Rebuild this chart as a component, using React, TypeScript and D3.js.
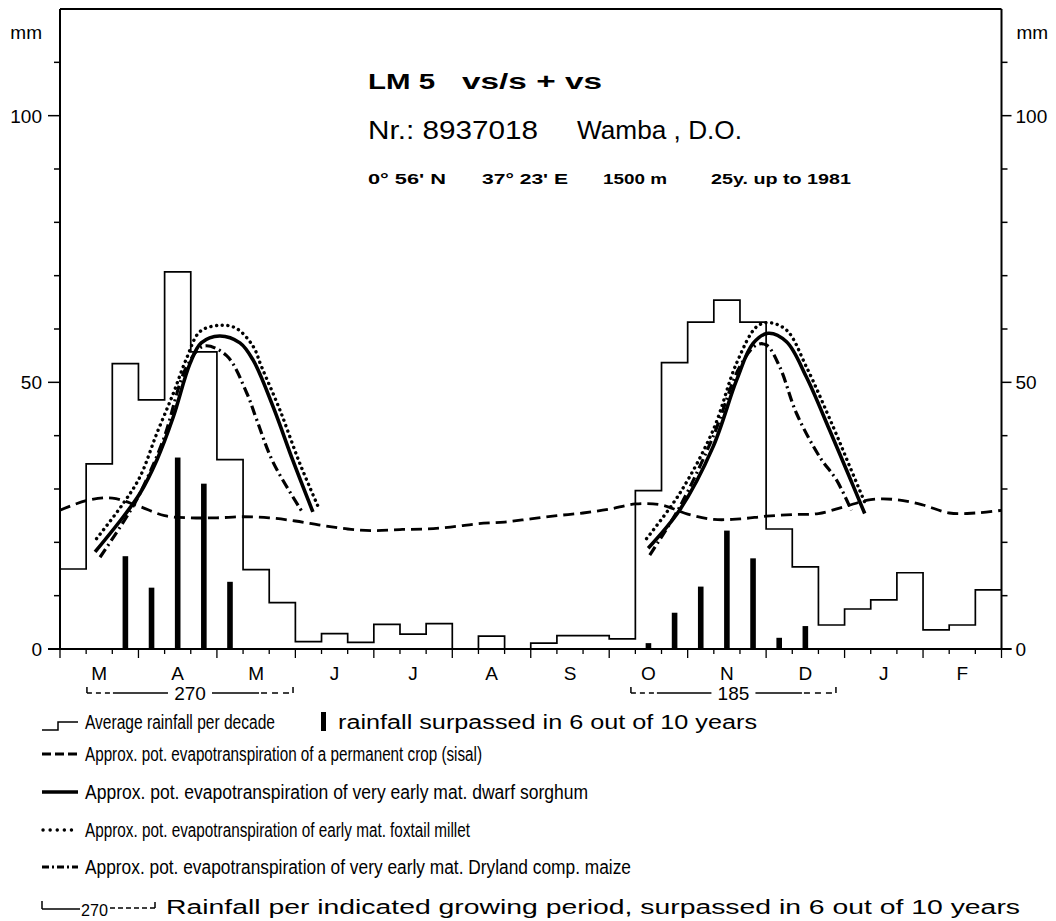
import React from "react";
import * as d3 from "d3";

// ---------- DATA ----------
const months = ["M", "A", "M", "J", "J", "A", "S", "O", "N", "D", "J", "F"];
const yTicks = [0, 50, 100];
const yMinorTicks = [10, 20, 30, 40, 60, 70, 80, 90, 110];

// average rainfall per decade (mm), March 1st decade .. February 3rd decade
const rainfall = [
  15, 34.7, 53.5, 46.7, 70.7, 55.7, 35.5, 14.9, 8.7,
  1.4, 2.9, 1.25, 4.6, 2.8, 4.75, 0, 2.4, 0,
  1.1, 2.5, 2.5, 1.9, 29.7, 53.7, 61.3, 65.4, 61.3,
  22.5, 15.4, 4.5, 7.5, 9.2, 14.3, 3.6, 4.5, 11.1,
];

// rainfall surpassed in 6 out of 10 years (mm) per decade
const dependable: (number | null)[] = [
  null, null, 17.4, 11.5, 35.9, 31.0, 12.6, null, null,
  null, null, null, null, null, null, null, null, null,
  null, null, null, null, 1.1, 6.8, 11.7, 22.2, 17.0,
  2.1, 4.3, null, null, null, null, null, null, null,
];

// ET of permanent crop (sisal) at decade boundaries 0..36
const sisal = [
  26.0, 27.8, 28.3, 26.8, 25.0, 24.6, 24.6, 24.8, 24.6, 24.0, 23.2, 22.5,
  22.2, 22.4, 22.5, 22.9, 23.5, 23.8, 24.4, 25.0, 25.5, 26.2, 27.2, 27.0,
  25.3, 24.3, 24.4, 24.9, 25.2, 25.4, 26.7, 28.0, 28.0, 27.0, 25.5, 25.5, 26.0,
];

// crop ET curves: [decade position, mm]
const sorghum1: [number, number][] = [
  [1.34, 18.2], [2.42, 24.8], [3.06, 29.2], [3.7, 35.4], [4.33, 43.5], [4.97, 53.5],
  [5.4, 57.4], [6.1, 58.7], [6.88, 57.4], [7.38, 54.2], [8.15, 45.4], [8.9, 35.4], [9.67, 25.7],
];
const millet1: [number, number][] = [
  [1.4, 20.7], [2.42, 27.3], [3.06, 32.3], [3.7, 40.4], [4.33, 47.9], [4.84, 54.5],
  [5.35, 59.5], [6.12, 60.7], [6.75, 60.1], [7.39, 56.7], [7.7, 53.0], [8.41, 44.8],
  [9.17, 34.8], [9.87, 26.7],
];
const maize1: [number, number][] = [
  [1.53, 17.2], [2.55, 24.8], [3.06, 29.2], [3.95, 39.2], [4.84, 52.9], [5.5, 56.8],
  [6.37, 55.0], [7.14, 48.0], [7.52, 43.0], [8.15, 35.0], [9.3, 25.4],
];
const sorghum2: [number, number][] = [
  [22.49, 18.9], [23.7, 26.1], [24.97, 37.9], [25.87, 50.4], [26.5, 57.3], [27.08, 59.2],
  [27.78, 57.6], [28.54, 51.0], [29.43, 41.0], [30.07, 33.6], [30.77, 25.4],
];
const millet2: [number, number][] = [
  [22.43, 20.7], [23.7, 29.2], [24.97, 41.0], [25.87, 53.6], [26.63, 60.4], [27.08, 61.2],
  [27.78, 59.8], [28.54, 52.9], [29.56, 41.7], [30.2, 34.2], [30.84, 26.7],
];
const maize2: [number, number][] = [
  [22.55, 17.6], [23.7, 26.7], [24.97, 39.8], [25.99, 52.9], [26.63, 57.0], [27.01, 57.0],
  [27.52, 52.9], [28.16, 44.2], [29.05, 36.0], [29.69, 31.7], [30.26, 26.0],
];

// growing periods (decade positions) and rainfall surpassed 6/10 years
const periodStart = [1.03, 21.83];
const periodEnd = [8.91, 29.67];
const periodTotal = [270, 185];

const legendTexts = [
  "Average rainfall per decade",
  "rainfall surpassed in 6 out of 10 years",
  "Approx. pot. evapotranspiration of a permanent crop (sisal)",
  "Approx. pot. evapotranspiration of very early mat. dwarf sorghum",
  "Approx. pot. evapotranspiration of early mat. foxtail millet",
  "Approx. pot. evapotranspiration of very early mat. Dryland comp. maize",
  "Rainfall per indicated growing period, surpassed in 6 out of 10 years",
];

const titleLine1 = ["LM 5", "vs/s + vs"];
const titleLine2 = ["Nr.: 8937018", "Wamba , D.O."];
const titleLine3 = ["0° 56' N", "37° 23' E", "1500 m", "25y. up to 1981"];

// ---------- LAYOUT ----------
const W = 1056;
const H = 921;
const X0 = 60;
const X1 = 1001.5;
const Y0 = 649;
const YTOP = 9;
const FONT = "'Liberation Sans', Arial, Helvetica, sans-serif";

export default function App() {
  const x = d3.scaleLinear().domain([0, 36]).range([X0, X1]);
  const y = d3.scaleLinear().domain([0, 120]).range([Y0, YTOP]);

  const histPts: [number, number][] = rainfall.map((v, i) => [i, v]);
  histPts.push([36, rainfall[rainfall.length - 1]]);
  const histLine = d3
    .line<[number, number]>()
    .x((d) => x(d[0]))
    .y((d) => y(d[1]))
    .curve(d3.curveStepAfter);

  const smooth = d3
    .line<[number, number]>()
    .x((d) => x(d[0]))
    .y((d) => y(d[1]))
    .curve(d3.curveCatmullRom.alpha(0.5));

  const sisalPts: [number, number][] = sisal.map((v, i) => [i, v]);
  const decadeTicks = d3.range(0, 37);

  const lineStyles = {
    sisal: { strokeWidth: 2.8, strokeDasharray: "11 6" },
    sorghum: { strokeWidth: 3.6 },
    millet: { strokeWidth: 3.4, strokeDasharray: "0.1 5.6", strokeLinecap: "round" as const },
    maize: { strokeWidth: 3.2, strokeDasharray: "10 4 2 4" },
  };

  const legendY = [722, 754, 792, 830, 867, 907];
  // [x start, width] for each legend text
  const legendBox: [number, number][] = [
    [85, 190], [338, 419], [85, 397], [85, 503], [85, 385], [85, 546], [166, 854],
  ];
  const legendRow = [0, 0, 1, 2, 3, 4, 5];
  const LFS = 20;

  const t1: [number, number][] = [[368, 67], [462, 140]];
  const t2: [number, number][] = [[368, 170], [577, 165]];
  const t3: [number, number][] = [[368, 78], [482, 86], [603, 64], [711, 140]];

  return (
    <svg
      width={W}
      height={H}
      style={{ position: "absolute", left: 0, top: 0, background: "#fff" }}
      fontFamily={FONT}
    >
      <rect x={0} y={0} width={W} height={H} fill="#fff" />

      {/* frame */}
      <g stroke="#000" strokeWidth={2} fill="none">
        <line x1={X0} y1={YTOP} x2={X1} y2={YTOP} />
        <line x1={X0} y1={YTOP} x2={X0} y2={Y0} />
        <line x1={X1} y1={YTOP} x2={X1} y2={Y0} />
        <line x1={X0 - 12} y1={Y0} x2={X1 + 10} y2={Y0} />
      </g>

      {/* y ticks */}
      <g stroke="#000" strokeWidth={1.5}>
        {yTicks.map((t) => (
          <g key={"yt" + t}>
            <line x1={X0 - 12} x2={X0} y1={y(t)} y2={y(t)} />
            <line x1={X1} x2={X1 + 10} y1={y(t)} y2={y(t)} />
          </g>
        ))}
        {yMinorTicks.map((t) => (
          <g key={"ym" + t}>
            <line x1={X0 - 6} x2={X0} y1={y(t)} y2={y(t)} />
            <line x1={X1} x2={X1 + 6} y1={y(t)} y2={y(t)} />
          </g>
        ))}
      </g>
      <g fontSize={19} fill="#000">
        {yTicks.map((t) => (
          <g key={"yl" + t}>
            <text x={X0 - 18} y={y(t) + 7} textAnchor="end">{t}</text>
            <text x={X1 + 14} y={y(t) + 7}>{t}</text>
          </g>
        ))}
        <text x={X0 - 18} y={39} textAnchor="end">mm</text>
        <text x={X1 + 15} y={39}>mm</text>
      </g>

      {/* x ticks */}
      <g stroke="#000" strokeWidth={1.3}>
        {decadeTicks.map((i) => (
          <line key={"xt" + i} x1={x(i)} x2={x(i)} y1={Y0} y2={Y0 + (i % 3 === 0 ? 9 : 5)} />
        ))}
      </g>
      <g fontSize={19} fill="#000" textAnchor="middle">
        {months.map((m, i) => (
          <text key={"m" + i} x={x(i * 3 + 1.5)} y={680}>{m}</text>
        ))}
      </g>

      {/* histogram */}
      <path d={histLine(histPts) || ""} fill="none" stroke="#000" strokeWidth={1.7} />

      {/* dependable rainfall bars */}
      {dependable.map((v, i) =>
        v == null ? null : (
          <rect key={"b" + i} x={x(i + 0.5) - 2.8} width={5.6} y={y(v)} height={y(0) - y(v)} fill="#000" />
        )
      )}

      {/* sisal */}
      <path d={smooth(sisalPts) || ""} fill="none" stroke="#000" {...lineStyles.sisal} />

      {/* crop curves */}
      {[sorghum1, sorghum2].map((c, i) => (
        <path key={"s" + i} d={smooth(c) || ""} fill="none" stroke="#000" {...lineStyles.sorghum} />
      ))}
      {[millet1, millet2].map((c, i) => (
        <path key={"mi" + i} d={smooth(c) || ""} fill="none" stroke="#000" {...lineStyles.millet} />
      ))}
      {[maize1, maize2].map((c, i) => (
        <path key={"ma" + i} d={smooth(c) || ""} fill="none" stroke="#000" {...lineStyles.maize} />
      ))}

      {/* growing period brackets */}
      {periodTotal.map((tot, i) => {
        const xs = x(periodStart[i]);
        const xe = x(periodEnd[i]);
        const xc = (xs + xe) / 2;
        const by = 693;
        return (
          <g key={"gp" + i} stroke="#000" fill="none">
            <line x1={xs} x2={xs} y1={by} y2={by - 6} strokeWidth={1.5} />
            <line x1={xe} x2={xe} y1={by} y2={by - 6} strokeWidth={1.5} />
            <line x1={xs} x2={xs + 24} y1={by} y2={by} strokeWidth={1.5} strokeDasharray="5 4" />
            <line x1={xs + 26} x2={xc - 22} y1={by} y2={by} strokeWidth={1.5} />
            <line x1={xc + 22} x2={xe - 34} y1={by} y2={by} strokeWidth={1.5} />
            <line x1={xe - 32} x2={xe} y1={by} y2={by} strokeWidth={1.5} strokeDasharray="6 5" />
            <text x={xc} y={by + 7} textAnchor="middle" fontSize={19} fill="#000" stroke="none">
              {tot}
            </text>
          </g>
        );
      })}

      {/* titles */}
      <g fill="#000">
        {titleLine1.map((s, i) => (
          <text key={"t1" + i} x={t1[i][0]} y={89} fontSize={22} fontWeight="bold" textLength={t1[i][1]} lengthAdjust="spacingAndGlyphs">{s}</text>
        ))}
        {titleLine2.map((s, i) => (
          <text key={"t2" + i} x={t2[i][0]} y={138.5} fontSize={25} textLength={t2[i][1]} lengthAdjust="spacingAndGlyphs">{s}</text>
        ))}
        {titleLine3.map((s, i) => (
          <text key={"t3" + i} x={t3[i][0]} y={184} fontSize={15.5} fontWeight="bold" textLength={t3[i][1]} lengthAdjust="spacingAndGlyphs">{s}</text>
        ))}
      </g>

      {/* legend symbols */}
      <g stroke="#000" fill="none">
        <path d={`M42,${legendY[0] + 8} H58 V${legendY[0]} H78`} strokeWidth={1.5} />
        <rect x={321} y={legendY[0] - 10} width={5} height={19} fill="#000" stroke="none" />
        <line x1={42} x2={78} y1={legendY[1]} y2={legendY[1]} strokeWidth={2.8} strokeDasharray="9 4" />
        <line x1={42} x2={78} y1={legendY[2]} y2={legendY[2]} strokeWidth={3.6} />
        <line x1={43} x2={78} y1={legendY[3]} y2={legendY[3]} strokeWidth={3.4} strokeDasharray="0.1 7" strokeLinecap="round" />
        <line x1={42} x2={78} y1={legendY[4]} y2={legendY[4]} strokeWidth={3} strokeDasharray="7 3 2 3" />
        <line x1={42} x2={42} y1={legendY[5] + 2} y2={legendY[5] - 6} strokeWidth={1.5} />
        <line x1={42} x2={80} y1={legendY[5] + 2} y2={legendY[5] + 2} strokeWidth={1.5} />
        <line x1={110} x2={155} y1={legendY[5] + 1} y2={legendY[5] + 1} strokeWidth={1.5} strokeDasharray="5 3" />
        <line x1={155} x2={155} y1={legendY[5] + 1} y2={legendY[5] - 5} strokeWidth={1.5} />
      </g>

      {/* legend texts */}
      <g fill="#000" fontSize={LFS}>
        <text x={81} y={legendY[5] + 9} fontSize={17} textLength={27} lengthAdjust="spacingAndGlyphs">270</text>
        {legendTexts.map((s, k) => (
          <text
            key={"lt" + k}
            x={legendBox[k][0]}
            y={legendY[legendRow[k]] + 7}
            textLength={legendBox[k][1]}
            lengthAdjust="spacingAndGlyphs"
          >
            {s}
          </text>
        ))}
      </g>
    </svg>
  );
}
